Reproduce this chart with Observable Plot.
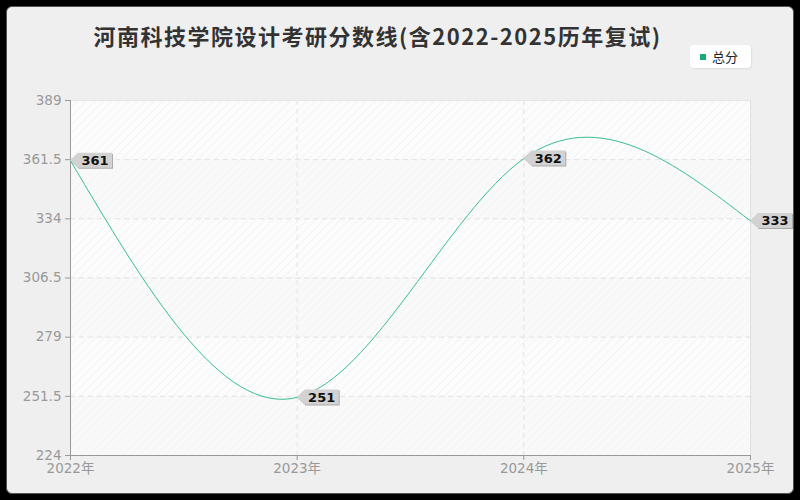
<!DOCTYPE html>
<html><head><meta charset="utf-8">
<script src="https://cdn.jsdelivr.net/npm/d3@7"></script>
<script src="https://cdn.jsdelivr.net/npm/@observablehq/plot@0.6"></script>
<style>
html,body{margin:0;padding:0;background:#000;}
#wrap{position:relative;width:800px;height:500px;overflow:hidden;background:#000;}
#card{position:absolute;left:6px;top:6px;width:786px;height:486px;background:#efefef;border:1px solid #555;border-radius:6px;}
#title{position:absolute;left:0;width:755px;top:19px;text-align:center;font:bold 22px "Noto Sans CJK SC","DejaVu Sans",sans-serif;letter-spacing:1.5px;color:#333;}
#legend{position:absolute;left:690px;top:45px;width:61px;height:23px;background:#fff;border-radius:4px;box-shadow:1px 1px 2px rgba(0,0,0,0.08);font:13px "Noto Sans CJK SC",sans-serif;color:#222;}
#legend .sw{position:absolute;left:10px;top:9px;width:6px;height:6px;background:#1aaa78;}
#legend .tx{position:absolute;left:22px;top:2px;}
#chart{position:absolute;left:0;top:0;}
</style></head>
<body>
<div id="wrap">
<div id="card"></div>
<div id="title">河南科技学院设计考研分数线(含2022-2025历年复试)</div>
<div id="legend"><span class="sw"></span><span class="tx">总分</span></div>
<div id="chart"></div>
</div>
<script>
const years = [2022, 2023, 2024, 2025];
const scores = [361, 251, 362, 333];
const yTicks = [224, 251.5, 279, 306.5, 334, 361.5, 389];
const strongBands = [[361.5, 389], [306.5, 334], [251.5, 279]];
const faintBands = [[334, 361.5], [279, 306.5], [224, 251.5]];
const seriesName = "总分";

const data = years.map((y, i) => ({year: y, value: scores[i]}));
const lineColor = "#35c08c";

function tagRender(index, scales, values, dimensions, context) {
  const g = d3.create("svg:g");
  for (const i of index) {
    const x = values.x[i], y = values.y[i];
    const w = 34, h = 15, a = 8;
    const p = `M${x},${y} L${x+a},${y-h/2} L${x+a+w},${y-h/2} L${x+a+w},${y+h/2} L${x+a},${y+h/2} Z`;
    g.append("path").attr("d", p).attr("transform", "translate(1,1)").attr("fill", "#ababab");
    g.append("path").attr("d", p).attr("fill", "#d2d2d2");
    g.append("text").attr("x", x + a + w/2).attr("y", y).attr("dy", "0.36em")
      .attr("text-anchor", "middle").attr("font-weight", "bold").attr("font-size", 13)
      .attr("font-family", "DejaVu Sans, sans-serif").attr("fill", "#111").text(scores[i]);
  }
  return g.node();
}

const plot = Plot.plot({
  width: 800, height: 500,
  marginLeft: 70, marginRight: 50, marginTop: 100, marginBottom: 45,
  style: {background: "transparent", fontFamily: "DejaVu Sans, Noto Sans CJK SC, sans-serif", fontSize: "13.5px"},
  x: {domain: [2022, 2025], ticks: years, tickFormat: d => d + "年", label: null},
  y: {domain: [224, 389], ticks: yTicks, tickFormat: d => String(d), label: null},
  marks: [
    Plot.rect(strongBands, {x1: 2022, x2: 2025, y1: d => d[0], y2: d => d[1], fill: "url(#hatchStrong)"}),
    Plot.rect(faintBands, {x1: 2022, x2: 2025, y1: d => d[0], y2: d => d[1], fill: "url(#hatchFaint)"}),
    Plot.ruleY(yTicks.filter(t => t > 224 && t < 389), {stroke: "#e2e2e2", strokeDasharray: "5,4", strokeWidth: 1}),
    Plot.ruleX(years.filter(t => t > 2022 && t < 2025), {stroke: "#e2e2e2", strokeDasharray: "5,4", strokeWidth: 1}),
    Plot.ruleY([389], {stroke: "#e6e6e6"}),
    Plot.ruleX([2025], {stroke: "#e0e0e0"}),
    Plot.axisX({ticks: years, tickFormat: d => d + "年", color: "#999", tickSize: 5, fontSize: 13.5, tickPadding: 3}),
    Plot.axisY({ticks: yTicks, tickFormat: d => String(d), color: "#999", tickSize: 5, fontSize: 13.5, tickPadding: 4}),
    Plot.ruleY([224], {stroke: "#999"}),
    Plot.ruleX([2022], {stroke: "#999"}),
    Plot.line(data, {x: "year", y: "value", curve: "natural", stroke: lineColor, strokeWidth: 1}),
    Plot.dot(data, {x: "year", y: "value", r: 0, render: tagRender})
  ]
});

const svg = d3.select(plot);
const defs = svg.insert("defs", ":first-child");
function hatch(id, bg, line) {
  const p = defs.append("pattern").attr("id", id).attr("patternUnits", "userSpaceOnUse")
    .attr("width", 6).attr("height", 6).attr("patternTransform", "rotate(45)");
  p.append("rect").attr("width", 6).attr("height", 6).attr("fill", bg);
  p.append("line").attr("x1", 0).attr("y1", 0).attr("x2", 0).attr("y2", 6).attr("stroke", line).attr("stroke-width", 1.2);
}
hatch("hatchStrong", "#fcfcfc", "#efefef");
hatch("hatchFaint", "#f9f9f9", "#f3f3f3");
document.getElementById("chart").appendChild(plot);
</script>
</body></html>
